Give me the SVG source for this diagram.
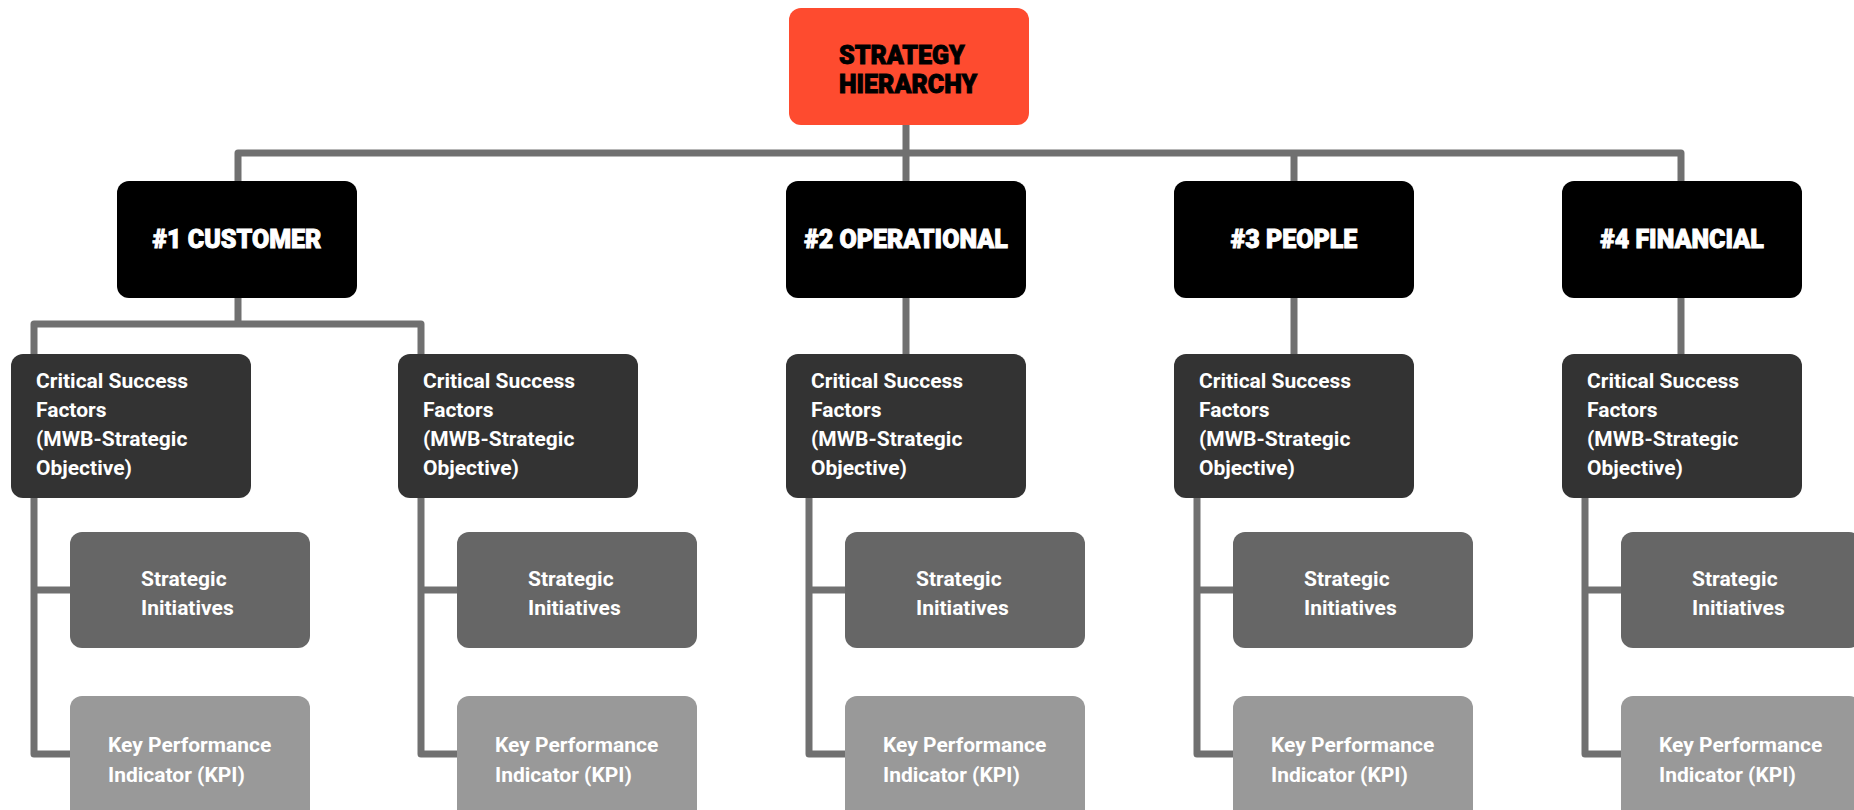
<svg xmlns="http://www.w3.org/2000/svg" width="1854" height="810" viewBox="0 0 1854 810">
<style>
.ln{fill:none;stroke:#707070;stroke-width:7;stroke-linejoin:round}
.root{fill:#FE4B2F}
.l1{fill:#000}
.csf{fill:#333333}
.si{fill:#666666}
.kpi{fill:#999999}
.th{font-family:Roboto,"Liberation Sans",sans-serif;font-weight:900;font-size:25px;stroke-width:0.9}
.tb{fill:#000;stroke:#000}
.tl{fill:#fff;stroke:#fff}
.tw{font-family:Roboto,"Liberation Sans",sans-serif;font-weight:700;font-size:21px;fill:#fff}
.c{text-anchor:middle}
</style>
<rect width="1854" height="810" fill="#fff"/>
<g id="connectors">
<path class="ln" d="M906 124V181M238 181V153H1681V181M1294 153V181"/>
<path class="ln" d="M238 298V324M34 354V324H421V354"/>
<path class="ln" d="M906 298V354M1294 298V354M1681 298V354"/>
<path class="ln" d="M34 498V754H70M34 590H70"/>
<path class="ln" d="M421 498V754H457M421 590H457"/>
<path class="ln" d="M809 498V754H845M809 590H845"/>
<path class="ln" d="M1197 498V754H1233M1197 590H1233"/>
<path class="ln" d="M1585 498V754H1621M1585 590H1621"/>
</g>
<g id="root">
<rect class="root" x="789" y="8" width="240" height="117" rx="12"/>
<text class="th tb" x="839" y="64">STRATEGY</text>
<text class="th tb" x="839" y="93">HIERARCHY</text>
</g>
<g id="customer"><rect class="l1" x="117" y="181" width="240" height="117" rx="12"/><text class="th tl c" x="237" y="248">#1 CUSTOMER</text></g>
<g id="operational"><rect class="l1" x="786" y="181" width="240" height="117" rx="12"/><text class="th tl c" x="906" y="248">#2 OPERATIONAL</text></g>
<g id="people"><rect class="l1" x="1174" y="181" width="240" height="117" rx="12"/><text class="th tl c" x="1294" y="248">#3 PEOPLE</text></g>
<g id="financial"><rect class="l1" x="1562" y="181" width="240" height="117" rx="12"/><text class="th tl c" x="1682" y="248">#4 FINANCIAL</text></g>

<g id="csf1"><rect class="csf" x="11" y="354" width="240" height="144" rx="12"/><text class="tw" x="36" y="388">Critical Success</text><text class="tw" x="36" y="417">Factors</text><text class="tw" x="36" y="446">(MWB-Strategic</text><text class="tw" x="36" y="475">Objective)</text></g>
<g id="csf2"><rect class="csf" x="398" y="354" width="240" height="144" rx="12"/><text class="tw" x="423" y="388">Critical Success</text><text class="tw" x="423" y="417">Factors</text><text class="tw" x="423" y="446">(MWB-Strategic</text><text class="tw" x="423" y="475">Objective)</text></g>
<g id="csf3"><rect class="csf" x="786" y="354" width="240" height="144" rx="12"/><text class="tw" x="811" y="388">Critical Success</text><text class="tw" x="811" y="417">Factors</text><text class="tw" x="811" y="446">(MWB-Strategic</text><text class="tw" x="811" y="475">Objective)</text></g>
<g id="csf4"><rect class="csf" x="1174" y="354" width="240" height="144" rx="12"/><text class="tw" x="1199" y="388">Critical Success</text><text class="tw" x="1199" y="417">Factors</text><text class="tw" x="1199" y="446">(MWB-Strategic</text><text class="tw" x="1199" y="475">Objective)</text></g>
<g id="csf5"><rect class="csf" x="1562" y="354" width="240" height="144" rx="12"/><text class="tw" x="1587" y="388">Critical Success</text><text class="tw" x="1587" y="417">Factors</text><text class="tw" x="1587" y="446">(MWB-Strategic</text><text class="tw" x="1587" y="475">Objective)</text></g>

<g id="si1"><rect class="si" x="70" y="532" width="240" height="116" rx="12"/><text class="tw" x="141" y="586">Strategic</text><text class="tw" x="141" y="615">Initiatives</text></g>
<g id="si2"><rect class="si" x="457" y="532" width="240" height="116" rx="12"/><text class="tw" x="528" y="586">Strategic</text><text class="tw" x="528" y="615">Initiatives</text></g>
<g id="si3"><rect class="si" x="845" y="532" width="240" height="116" rx="12"/><text class="tw" x="916" y="586">Strategic</text><text class="tw" x="916" y="615">Initiatives</text></g>
<g id="si4"><rect class="si" x="1233" y="532" width="240" height="116" rx="12"/><text class="tw" x="1304" y="586">Strategic</text><text class="tw" x="1304" y="615">Initiatives</text></g>
<g id="si5"><rect class="si" x="1621" y="532" width="240" height="116" rx="12"/><text class="tw" x="1692" y="586">Strategic</text><text class="tw" x="1692" y="615">Initiatives</text></g>

<g id="kpi1"><rect class="kpi" x="70" y="696" width="240" height="126" rx="12"/><text class="tw" x="108" y="752">Key Performance</text><text class="tw" x="108" y="782">Indicator (KPI)</text></g>
<g id="kpi2"><rect class="kpi" x="457" y="696" width="240" height="126" rx="12"/><text class="tw" x="495" y="752">Key Performance</text><text class="tw" x="495" y="782">Indicator (KPI)</text></g>
<g id="kpi3"><rect class="kpi" x="845" y="696" width="240" height="126" rx="12"/><text class="tw" x="883" y="752">Key Performance</text><text class="tw" x="883" y="782">Indicator (KPI)</text></g>
<g id="kpi4"><rect class="kpi" x="1233" y="696" width="240" height="126" rx="12"/><text class="tw" x="1271" y="752">Key Performance</text><text class="tw" x="1271" y="782">Indicator (KPI)</text></g>
<g id="kpi5"><rect class="kpi" x="1621" y="696" width="240" height="126" rx="12"/><text class="tw" x="1659" y="752">Key Performance</text><text class="tw" x="1659" y="782">Indicator (KPI)</text></g>
</svg>
